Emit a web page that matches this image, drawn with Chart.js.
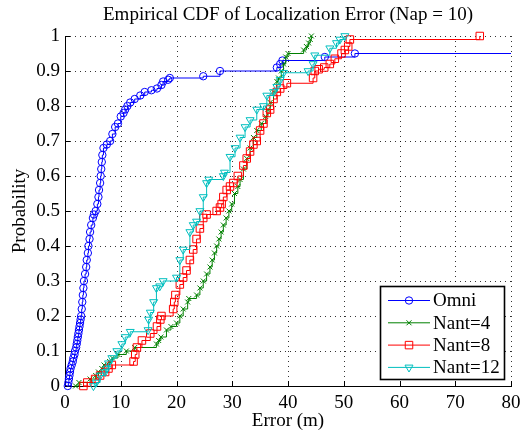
<!DOCTYPE html>
<html>
<head>
<meta charset="utf-8">
<script src="https://cdn.jsdelivr.net/npm/chart.js"></script>
<style>
  html, body { margin: 0; padding: 0; background: #fff; }
  #cdf-chart { display: block; }
</style>
</head>
<body>
<canvas id="cdf-chart" width="525" height="438"></canvas>
<script>
// Empirical CDF values (error in m, cumulative probability)
const omniErr = [0.5, 0.6, 0.7, 0.8, 0.9, 1.0, 1.2, 1.4, 1.5, 1.7, 1.8, 2.0, 2.1, 2.2, 2.3, 2.4, 2.5, 2.6, 2.7, 2.8, 2.9,
  3.0, 3.1, 3.2, 3.3, 3.4, 3.6, 3.8, 3.9, 4.1, 4.2, 4.4, 4.5, 4.7, 5.0, 5.2, 5.5, 5.8, 6.0, 6.1, 6.3, 6.4, 6.5, 6.6, 6.7,
  6.9, 7.5, 8.1, 8.5, 9.0, 9.5, 10.0, 10.5, 10.8, 11.2, 11.7, 12.5, 13.5, 14.3, 15.5, 16.5, 17.3, 17.6, 18.5, 18.8,
  24.8, 27.8, 38.0, 38.6, 39.0, 46.6, 52.0, 90.0];
const omniProb = [0, 0.01, 0.02, 0.03, 0.04, 0.05, 0.06, 0.07, 0.08, 0.09, 0.10, 0.11, 0.12, 0.13, 0.14, 0.15, 0.16, 0.17, 0.18, 0.19, 0.20,
  0.22, 0.24, 0.26, 0.28, 0.30, 0.32, 0.34, 0.36, 0.38, 0.40, 0.42, 0.44, 0.46, 0.48, 0.49, 0.50, 0.52, 0.54, 0.56, 0.58, 0.60, 0.62, 0.64, 0.66,
  0.68, 0.69, 0.70, 0.72, 0.74, 0.75, 0.77, 0.78, 0.79, 0.80, 0.81, 0.82, 0.83, 0.84, 0.845, 0.85, 0.86, 0.87, 0.875, 0.88,
  0.885, 0.90, 0.91, 0.92, 0.93, 0.94, 0.95, 1.0];

const nant4Err = [1.9, 2.5, 4.5, 5.5, 6.0, 6.6, 7.0, 8.0, 8.5, 9.5, 11.0, 12.5, 16.4, 16.8, 17.2, 18.2, 19.0, 20.0, 20.6, 21.2,
  22.0, 22.2, 23.6, 24.2, 24.8, 25.4, 26.0, 26.4, 26.8, 27.2, 27.6, 28.0, 28.4, 28.9, 29.4, 29.9, 30.4, 31.0, 31.4, 32.0,
  32.6, 33.2, 33.8, 34.4, 35.2, 36.0, 36.4, 36.8, 37.4, 38.0, 38.3, 38.8, 39.2, 39.6, 40.0, 42.8, 43.3, 43.7, 44.0, 44.2];
const nant4Prob = [0, 0.01, 0.02, 0.03, 0.04, 0.05, 0.06, 0.07, 0.08, 0.09, 0.10, 0.11, 0.12, 0.13, 0.14, 0.16, 0.17, 0.18, 0.20, 0.22,
  0.24, 0.25, 0.26, 0.28, 0.30, 0.32, 0.34, 0.36, 0.38, 0.40, 0.42, 0.44, 0.46, 0.48, 0.50, 0.52, 0.55, 0.57, 0.59, 0.62,
  0.65, 0.68, 0.71, 0.73, 0.75, 0.77, 0.79, 0.81, 0.84, 0.87, 0.88, 0.90, 0.92, 0.94, 0.95, 0.96, 0.97, 0.98, 0.99, 1.0];

const nant8Err = [3.3, 4.0, 5.4, 6.3, 7.2, 7.8, 8.4, 12.3, 12.6, 12.9, 13.8, 15.3, 16.5, 17.1, 17.3, 19.4, 19.6, 19.8, 20.6, 21.2,
  21.8, 22.4, 23.0, 23.6, 24.2, 24.8, 25.4, 27.2, 27.8, 28.1, 28.4, 29.0, 29.6, 30.2, 31.0, 32.0, 32.6, 33.2, 33.8, 34.4,
  35.0, 35.6, 36.2, 36.8, 37.4, 38.0, 38.6, 39.8, 44.5, 44.8, 45.5, 46.5, 47.5, 48.4, 49.6, 50.2, 50.8, 51.1, 74.4];
const nant8Prob = [0, 0.01, 0.02, 0.03, 0.04, 0.05, 0.06, 0.07, 0.09, 0.11, 0.13, 0.15, 0.17, 0.19, 0.20, 0.22, 0.24, 0.26, 0.29, 0.31,
  0.33, 0.36, 0.39, 0.42, 0.45, 0.48, 0.49, 0.50, 0.51, 0.52, 0.54, 0.56, 0.57, 0.58, 0.60, 0.63, 0.65, 0.67, 0.69, 0.70,
  0.73, 0.75, 0.78, 0.79, 0.82, 0.84, 0.85, 0.865, 0.88, 0.90, 0.905, 0.91, 0.92, 0.935, 0.95, 0.96, 0.97, 0.99, 1.0];

const nant12Err = [5.1, 5.6, 6.3, 7.2, 7.5, 7.8, 8.4, 9.3, 10.2, 10.8, 11.7, 14.9, 15.0, 15.3, 15.9, 16.4, 17.0, 17.6, 20.0, 20.6,
  21.2, 22.4, 23.0, 23.6, 24.2, 24.8, 25.4, 25.8, 28.4, 28.6, 29.6, 30.5, 31.4, 32.3, 33.2, 34.4, 35.6, 36.2, 37.4, 38.0,
  38.6, 39.2, 43.6, 44.5, 44.8, 47.5, 48.7, 49.3, 50.2];
const nant12Prob = [0, 0.01, 0.03, 0.04, 0.05, 0.065, 0.08, 0.10, 0.12, 0.14, 0.155, 0.16, 0.19, 0.21, 0.24, 0.28, 0.285, 0.30, 0.31, 0.36,
  0.39, 0.44, 0.46, 0.47, 0.50, 0.54, 0.58, 0.59, 0.60, 0.61, 0.655, 0.68, 0.71, 0.74, 0.76, 0.79, 0.80, 0.83, 0.84, 0.855,
  0.875, 0.895, 0.90, 0.92, 0.945, 0.965, 0.98, 0.99, 1.0];

const seriesNames = ['Omni', 'Nant=4', 'Nant=8', 'Nant=12'];
const seriesColors = ['#0000ff', '#008000', '#ff0000', '#00bfbf'];
const xTicks = [0, 10, 20, 30, 40, 50, 60, 70, 80];
const yTicks = [0, 0.1, 0.2, 0.3, 0.4, 0.5, 0.6, 0.7, 0.8, 0.9, 1];

const serif = "'Liberation Serif', 'Times New Roman', serif";

function toPoints(xs, ys) {
  return xs.map((v, i) => ({ x: v, y: ys[i] }));
}

const markerSpecs = [
  { style: 'circle', radius: 3.7, rotation: 0 },
  { style: 'crossRot', radius: 3.5, rotation: 0 },
  { style: 'rect', radius: 5.3, rotation: 0 },
  { style: 'triangle', radius: 4.6, rotation: 180 }
];

function makeDataset(i, xs, ys) {
  return {
    label: seriesNames[i],
    data: toPoints(xs, ys),
    stepped: true,
    borderColor: seriesColors[i],
    borderWidth: 1,
    backgroundColor: 'transparent',
    pointStyle: markerSpecs[i].style,
    pointRadius: markerSpecs[i].radius,
    pointRotation: markerSpecs[i].rotation,
    pointBorderColor: seriesColors[i],
    pointBackgroundColor: 'transparent',
    pointBorderWidth: 1,
    fill: false,
    order: 4 - i,
    clip: { left: 10, top: 10, right: 0, bottom: 10 }
  };
}

// little MATLAB-like touches: dotted grid, inward tick marks and a boxed legend
function drawMarker(ctx, kind, x, y, color) {
  ctx.strokeStyle = color;
  ctx.lineWidth = 1;
  ctx.beginPath();
  if (kind === 0) {
    ctx.arc(x, y, 3.7, 0, Math.PI * 2);
  } else if (kind === 1) {
    ctx.moveTo(x - 2.5, y - 2.5); ctx.lineTo(x + 2.5, y + 2.5);
    ctx.moveTo(x - 2.5, y + 2.5); ctx.lineTo(x + 2.5, y - 2.5);
  } else if (kind === 2) {
    ctx.rect(x - 3.75, y - 3.75, 7.5, 7.5);
  } else {
    ctx.moveTo(x - 4, y - 2.3); ctx.lineTo(x + 4, y - 2.3); ctx.lineTo(x, y + 4.6); ctx.closePath();
  }
  ctx.stroke();
}

const matlabExtras = {
  id: 'matlabExtras',
  beforeDatasetsDraw(chart) {
    const { ctx, chartArea: a, scales } = chart;
    ctx.save();
    // dotted grid
    ctx.strokeStyle = 'rgba(0,0,0,0.8)';
    ctx.lineWidth = 1;
    ctx.setLineDash([1, 4]);
    ctx.beginPath();
    xTicks.slice(1).forEach(v => {
      const px = Math.round(scales.x.getPixelForValue(v)) + 0.5;
      ctx.moveTo(px, a.top);
      ctx.lineTo(px, a.bottom);
    });
    yTicks.slice(1).forEach(v => {
      const py = Math.round(scales.y.getPixelForValue(v)) + 0.5;
      ctx.moveTo(a.left, py);
      ctx.lineTo(a.right, py);
    });
    ctx.stroke();
    // inward ticks
    ctx.setLineDash([]);
    ctx.strokeStyle = '#000';
    ctx.beginPath();
    xTicks.forEach(v => {
      const px = Math.round(scales.x.getPixelForValue(v)) + 0.5;
      ctx.moveTo(px, a.bottom);
      ctx.lineTo(px, a.bottom - 5);
    });
    yTicks.forEach(v => {
      const py = Math.round(scales.y.getPixelForValue(v)) + 0.5;
      ctx.moveTo(a.left, py);
      ctx.lineTo(a.left + 5, py);
    });
    ctx.stroke();
    ctx.restore();
  },
  afterDatasetsDraw(chart) {
    const ctx = chart.ctx;
    const box = { left: 380.5, top: 286.5, right: 504.5, bottom: 379.5 };
    ctx.save();
    ctx.fillStyle = '#fff';
    ctx.fillRect(box.left, box.top, box.right - box.left, box.bottom - box.top);
    ctx.strokeStyle = '#000';
    ctx.lineWidth = 1.6;
    ctx.strokeRect(box.left, box.top, box.right - box.left, box.bottom - box.top);
    ctx.font = '19px ' + serif;
    ctx.textBaseline = 'middle';
    ctx.textAlign = 'left';
    seriesNames.forEach((name, i) => {
      const y = 300.5 + i * 22.3;
      ctx.strokeStyle = seriesColors[i];
      ctx.lineWidth = 1;
      ctx.beginPath();
      ctx.moveTo(388, y);
      ctx.lineTo(430, y);
      ctx.stroke();
      drawMarker(ctx, i, 409, y, seriesColors[i]);
      ctx.fillStyle = '#000';
      ctx.fillText(name, 433, y + 1);
    });
    ctx.restore();
  }
};

const ctx = document.getElementById('cdf-chart').getContext('2d');

const cdfChart = new Chart(ctx, {
  type: 'line',
  data: {
    datasets: [
      makeDataset(0, omniErr, omniProb),
      makeDataset(1, nant4Err, nant4Prob),
      makeDataset(2, nant8Err, nant8Prob),
      makeDataset(3, nant12Err, nant12Prob)
    ]
  },
  options: {
    responsive: false,
    animation: false,
    layout: { padding: { left: 0, right: 14, top: 0, bottom: 0 } },
    plugins: {
      legend: { display: false },
      tooltip: { enabled: false },
      title: {
        display: true,
        fullSize: false,
        text: 'Empirical CDF of Localization Error (Nap = 10)',
        color: '#000',
        font: { family: serif, size: 19, weight: 'normal' },
        padding: { top: 4, bottom: 9.2 }
      }
    },
    scales: {
      x: {
        type: 'linear',
        min: 0,
        max: 80,
        afterBuildTicks: scale => { scale.ticks = xTicks.map(v => ({ value: v })); },
        ticks: {
          color: '#000',
          font: { family: serif, size: 19 },
          padding: 6,
          maxRotation: 0,
          callback: v => String(v)
        },
        grid: { display: false, drawTicks: false },
        border: { display: true, color: '#000', width: 1 },
        title: {
          display: true,
          text: 'Error (m)',
          color: '#000',
          font: { family: serif, size: 19 },
          padding: { top: 0, bottom: 6 }
        },
        afterFit: scale => {
          scale.height = 52;
          scale.paddingLeft = 0;
          scale.paddingRight = 0;
        }
      },
      y: {
        type: 'linear',
        min: 0,
        max: 1,
        afterBuildTicks: scale => { scale.ticks = yTicks.map(v => ({ value: v })); },
        ticks: {
          color: '#000',
          font: { family: serif, size: 19 },
          padding: 5,
          callback: v => (v === 0 ? '0' : v === 1 ? '1' : v.toFixed(1))
        },
        grid: { display: false, drawTicks: false },
        border: { display: true, color: '#000', width: 1 },
        title: {
          display: true,
          text: 'Probability',
          color: '#000',
          font: { family: serif, size: 19 },
          padding: { top: 9, bottom: 0 }
        },
        afterFit: scale => {
          scale.width = 65;
          scale.paddingTop = 0;
          scale.paddingBottom = 0;
        }
      }
    }
  },
  plugins: [matlabExtras]
});
</script>
</body>
</html>
